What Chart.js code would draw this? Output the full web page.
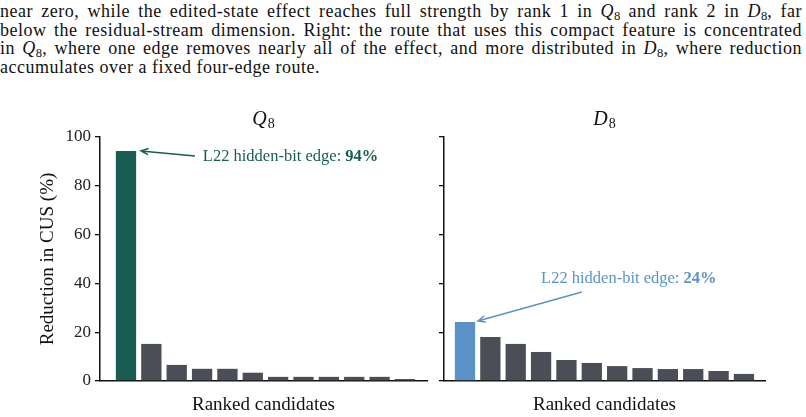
<!DOCTYPE html>
<html>
<head>
<meta charset="utf-8">
<script src="https://cdn.jsdelivr.net/npm/chart.js@4.4.1/dist/chart.umd.min.js"></script>
<style>
  body { margin: 0; width: 806px; height: 417px; overflow: hidden; background: #fff; position: relative;
         font-family: "Liberation Serif", "Times New Roman", serif; color: #111; }
  #caption { position: absolute; left: 0; top: 2px; width: 802px; font-family: "Liberation Serif", serif;
             font-size: 18px; letter-spacing: 0.5px; line-height: 18.5px; }
  #caption .l { text-align: justify; text-align-last: justify; white-space: nowrap; }
  #caption .last { text-align: left; text-align-last: left; }
  #caption sub { font-size: 0.7em; vertical-align: -0.25em; line-height: 0; letter-spacing: 0; }
  canvas { position: absolute; top: 100px; }
  #q8 { left: 0; }
  #d8 { left: 420px; }
</style>
</head>
<body>
<div id="caption">
  <div class="l">near zero, while the edited-state effect reaches full strength by rank 1 in <i>Q</i><sub>8</sub> and rank 2 in <i>D</i><sub>8</sub>, far</div>
  <div class="l">below the residual-stream dimension. Right: the route that uses this compact feature is concentrated</div>
  <div class="l">in <i>Q</i><sub>8</sub>, where one edge removes nearly all of the effect, and more distributed in <i>D</i><sub>8</sub>, where reduction</div>
  <div class="l last">accumulates over a fixed four-edge route.</div>
</div>
<canvas id="q8" width="440" height="317"></canvas>
<canvas id="d8" width="386" height="317"></canvas>
<script>
// --- data ---
const ranks = [1, 2, 3, 4, 5, 6, 7, 8, 9, 10, 11, 12];
const q8Reduction = [94.3, 15.2, 6.6, 5.0, 5.0, 3.4, 1.7, 1.7, 1.7, 1.7, 1.7, 0.8];
const d8Reduction = [24.2, 18.0, 15.2, 11.9, 8.6, 7.4, 6.1, 5.3, 4.9, 4.9, 4.1, 2.9];
const yTicks = [0, 20, 40, 60, 80, 100];

const FONT = '"Liberation Serif", "Times New Roman", serif';
const GREY = "#4b4e57";
const TEAL = "#195c52";
const BLUE = "#5b93c8";

// panel title (italic letter + subscript) and the arrow callout
const panelDecor = {
  id: "panelDecor",
  afterDraw(chart) {
    const o = chart.options.plugins.panelDecor;
    const { ctx, chartArea, scales } = chart;
    const x = scales.x, y = scales.y;
    ctx.save();

    // title
    ctx.fillStyle = "#111";
    ctx.textBaseline = "alphabetic";
    ctx.font = `italic 20px ${FONT}`;
    const wL = ctx.measureText(o.letter).width;
    ctx.font = `14px ${FONT}`;
    const wS = ctx.measureText("8").width;
    const cx = (chartArea.left + chartArea.right) / 2;
    const sx = cx - (wL + wS + 1) / 2;
    ctx.font = `italic 20px ${FONT}`;
    ctx.fillText(o.letter, sx, 25);
    ctx.font = `14px ${FONT}`;
    ctx.fillText("8", sx + wL + 1, 28);

    // arrow
    const c = o.callout;
    const tx = x.getPixelForValue(c.tail[0]), ty = y.getPixelForValue(c.tail[1]);
    const hx = x.getPixelForValue(c.tip[0]), hy = y.getPixelForValue(c.tip[1]);
    ctx.strokeStyle = c.color;
    ctx.lineWidth = 1.5;
    ctx.beginPath();
    ctx.moveTo(tx, ty);
    ctx.lineTo(hx, hy);
    const a = Math.atan2(ty - hy, tx - hx);
    const L = 8, sp = 0.4;
    ctx.moveTo(hx + L * Math.cos(a + sp), hy + L * Math.sin(a + sp));
    ctx.lineTo(hx, hy);
    ctx.lineTo(hx + L * Math.cos(a - sp), hy + L * Math.sin(a - sp));
    ctx.stroke();

    // label
    const lx = x.getPixelForValue(c.at[0]), ly = y.getPixelForValue(c.at[1]);
    ctx.fillStyle = c.color;
    ctx.textBaseline = "middle";
    ctx.font = `16.5px ${FONT}`;
    ctx.fillText(c.text, lx, ly);
    const w = ctx.measureText(c.text).width;
    ctx.font = `bold 16.5px ${FONT}`;
    ctx.fillText(c.bold, lx + w, ly);
    ctx.restore();
  }
};

function makeChart(id, values, hiColor, opts) {
  const pts = ranks.map((r, i) => ({ x: r, y: values[i] }));
  return new Chart(document.getElementById(id), {
    type: "bar",
    data: {
      datasets: [{
        data: pts,
        backgroundColor: values.map((v, i) => (i === 0 ? hiColor : GREY)),
        borderWidth: 0,
        barPercentage: 0.8,
        categoryPercentage: 1
      }]
    },
    options: {
      responsive: false,
      animation: false,
      events: [],
      layout: { padding: { top: 37, right: opts.padRight, left: 0, bottom: 0 } },
      plugins: {
        legend: { display: false },
        tooltip: { enabled: false },
        title: { display: false },
        panelDecor: opts.decor
      },
      scales: {
        x: {
          type: "linear",
          offset: false,
          min: opts.xMin,
          max: opts.xMax,
          ticks: { display: false },
          grid: { display: false },
          border: { display: true, color: "#111", width: 1.5 },
          title: { display: true, text: "Ranked candidates", color: "#111",
                   font: { family: FONT, size: 19 }, padding: { top: 0, bottom: 1 } },
          afterFit: (s) => { s.height = 36; }
        },
        y: {
          min: 0,
          max: 100,
          afterBuildTicks: (s) => { s.ticks = yTicks.map((v) => ({ value: v })); },
          ticks: { display: opts.showLabels, color: "#222", padding: 4,
                   font: { family: FONT, size: 17 } },
          grid: { drawOnChartArea: false, drawTicks: true, tickLength: 5,
                  color: "#111", lineWidth: 1.3 },
          border: { display: true, color: "#111", width: 1.5 },
          title: { display: opts.showLabels, text: "Reduction in CUS (%)", color: "#111",
                   font: { family: FONT, size: 19 }, padding: { top: 37, bottom: 0 } },
          afterFit: (s) => { s.width = opts.yWidth; }
        }
      }
    },
    plugins: [panelDecor]
  });
}

makeChart("q8", q8Reduction, TEAL, {
  padRight: 13, xMin: -0.025, xMax: 12.87, yWidth: 100, showLabels: true,
  decor: { letter: "Q", callout: { color: TEAL, text: "L22 hidden-bit edge: ", bold: "94%",
           at: [4.03, 91.8], tail: [3.72, 92.2], tip: [1.59, 94.3] } }
});

makeChart("d8", d8Reduction, BLUE, {
  padRight: 41, xMin: 0.172, xMax: 12.83, yWidth: 24, showLabels: false,
  decor: { letter: "D", callout: { color: BLUE, text: "L22 hidden-bit edge: ", bold: "24%",
           at: [4.0, 41.8], tail: [5.61, 36.5], tip: [1.51, 24.6] } }
});
</script>
</body>
</html>
